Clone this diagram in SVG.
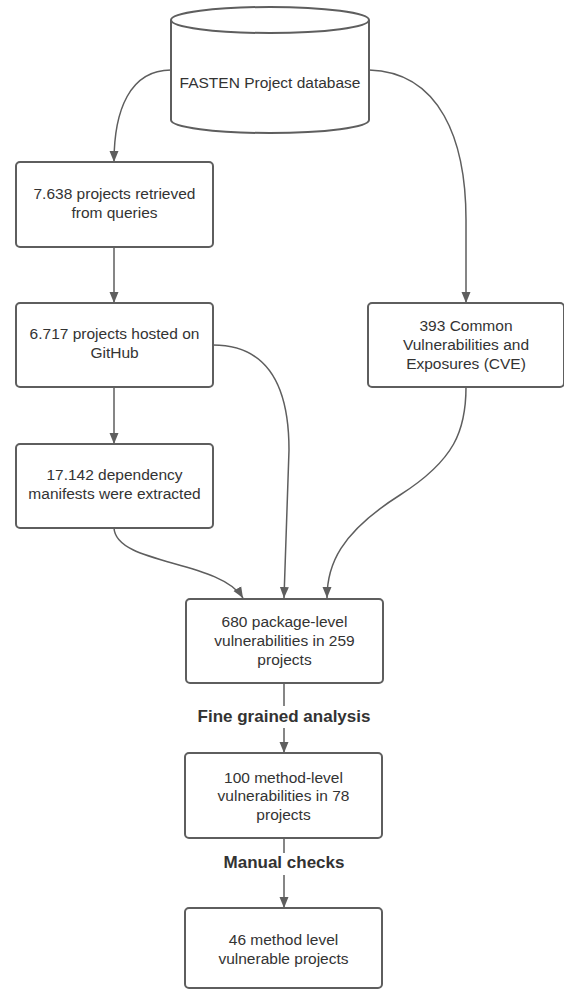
<svg xmlns="http://www.w3.org/2000/svg" width="564" height="991" viewBox="0 0 564 991">
<style>
.box{fill:#fff;stroke:#5e5e5e;stroke-width:2}
.t{font-family:"Liberation Sans",Arial,sans-serif;font-size:15.5px;fill:#333;text-anchor:middle}
.lb{font-family:"Liberation Sans",Arial,sans-serif;font-size:17px;font-weight:bold;fill:#333;text-anchor:middle}
.c{fill:none;stroke:#5e5e5e;stroke-width:1.5}
</style>
<defs>
<marker id="ah" markerUnits="userSpaceOnUse" markerWidth="12" markerHeight="12" viewBox="0 0 12 12" refX="11" refY="6" orient="auto">
<path d="M0,1.5 L11,6 L0,10.5 Z" fill="#5e5e5e"/>
</marker>
</defs>
<rect width="564" height="991" fill="#fff"/>
<g id="connectors">
<path class="c" d="M171,70 C130,70 114,110 114,162" marker-end="url(#ah)"/>
<path class="c" d="M369,70 C440,72 466,140 466,220 L466,303" marker-end="url(#ah)"/>
<path class="c" d="M114,247 L114,303" marker-end="url(#ah)"/>
<path class="c" d="M114,387 L114,444" marker-end="url(#ah)"/>
<path class="c" d="M213,345 C270,345 289,390 289,450 L284,598" marker-end="url(#ah)"/>
<path class="c" d="M114,528 C116,565 220,560 243,598" marker-end="url(#ah)"/>
<path class="c" d="M466,387 C466,430 455,460 400,495 C340,533 327,565 327,598" marker-end="url(#ah)"/>
<path class="c" d="M284,683 L284,706"/>
<path class="c" d="M284,728 L284,753" marker-end="url(#ah)"/>
<path class="c" d="M284,838 L284,853"/>
<path class="c" d="M284,875 L284,908" marker-end="url(#ah)"/>
</g>
<g id="db">
<path class="box" d="M171,20 L171,120 A99,13 0 0 0 369,120 L369,20 A99,13 0 0 0 171,20 Z"/>
<path class="box" d="M171,20 A99,13 0 0 0 369,20" fill="none"/>
<text class="t" x="270" y="87.5">FASTEN Project database</text>
</g>
<g id="n1">
<rect class="box" x="16" y="162" width="197" height="85" rx="4"/>
<text class="t" x="114.5" y="198.5">7.638 projects retrieved</text>
<text class="t" x="114.5" y="217.5">from queries</text>
</g>
<g id="n2">
<rect class="box" x="16" y="303" width="197" height="84" rx="4"/>
<text class="t" x="114.5" y="339">6.717 projects hosted on</text>
<text class="t" x="114.5" y="358">GitHub</text>
</g>
<g id="n3">
<rect class="box" x="16" y="444" width="197" height="84" rx="4"/>
<text class="t" x="114.5" y="479.5">17.142 dependency</text>
<text class="t" x="114.5" y="498.5">manifests were extracted</text>
</g>
<g id="cve">
<rect class="box" x="368" y="303" width="196" height="84" rx="4"/>
<text class="t" x="466" y="330.5">393 Common</text>
<text class="t" x="466" y="349.5">Vulnerabilities and</text>
<text class="t" x="466" y="368.5">Exposures (CVE)</text>
</g>
<g id="n5">
<rect class="box" x="186" y="599" width="197" height="84" rx="4"/>
<text class="t" x="284.5" y="627">680 package-level</text>
<text class="t" x="284.5" y="646">vulnerabilities in 259</text>
<text class="t" x="284.5" y="665">projects</text>
</g>
<text class="lb" x="284" y="722">Fine grained analysis</text>
<g id="n6">
<rect class="box" x="185" y="753" width="197" height="85" rx="4"/>
<text class="t" x="283.5" y="782.5">100 method-level</text>
<text class="t" x="283.5" y="801">vulnerabilities in 78</text>
<text class="t" x="283.5" y="819.5">projects</text>
</g>
<text class="lb" x="284" y="868">Manual checks</text>
<g id="n7">
<rect class="box" x="185" y="908" width="197" height="80" rx="4"/>
<text class="t" x="283.5" y="944.5">46 method level</text>
<text class="t" x="283.5" y="963.5">vulnerable projects</text>
</g>
</svg>
